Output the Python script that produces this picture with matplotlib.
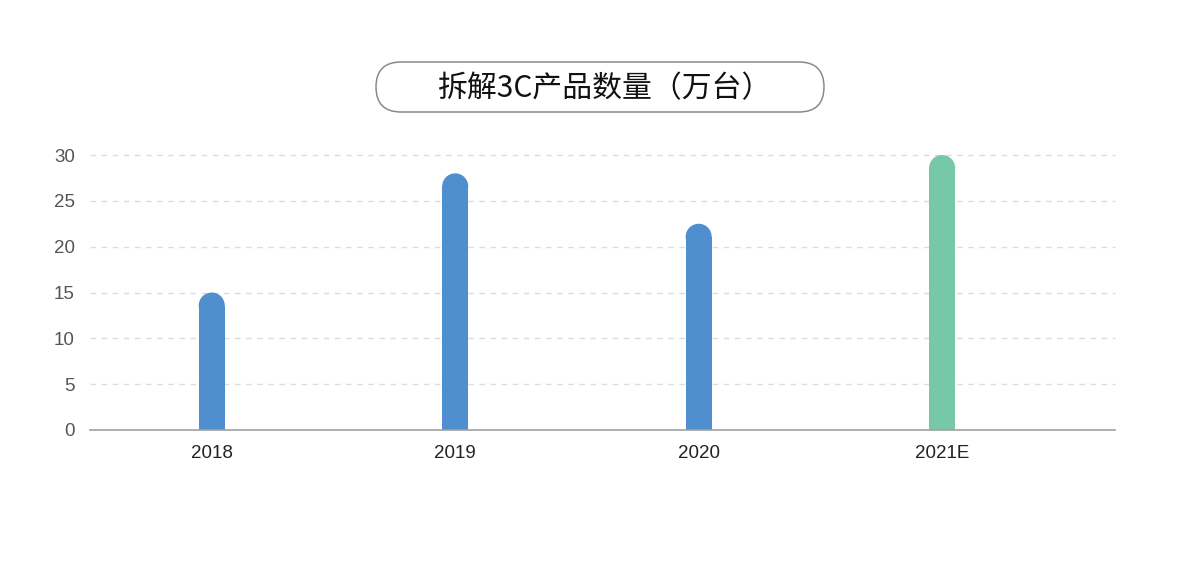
import numpy as np
import matplotlib
matplotlib.use("Agg")
import matplotlib.pyplot as plt
from matplotlib.patches import FancyBboxPatch

plt.rcParams['font.family'] = ['Liberation Sans', 'Noto Sans CJK SC', 'DejaVu Sans']

# data
years = ['2018', '2019', '2020', '2021E']
counts = [15, 28, 22.5, 30]
colors = ['#4F8FD0', '#4F8FD0', '#4F8FD0', '#76C8A8']
title = '拆解3C产品数量（万台）'

W, H = 1199, 584
fig = plt.figure(figsize=(W / 100, H / 100), dpi=100)
ax = fig.add_axes([90 / W, (H - 430) / H, (1115 - 90) / W, (430 - 155) / H])

x = np.arange(len(years))
bw = 0.107
ymax = 30
ax.set_xlim(-0.5, 3.71)
ax.set_ylim(0, ymax)

# rounded bar tops: rectangle + circle cap of the same pixel width
px_per_x = (1115 - 90) / 4.21
px_per_y = (430 - 155) / ymax
r_data = (bw * px_per_x / 2) / px_per_y
vals = np.array(counts)
ax.bar(x, vals - r_data, width=bw, color=colors, zorder=3)
diam_pt = bw * px_per_x * 0.72
ax.scatter(x, vals - r_data, s=diam_pt ** 2, c=colors, marker='o',
           linewidths=0, zorder=3, clip_on=False)

# grid and axes
ax.set_yticks([0, 5, 10, 15, 20, 25, 30])
for yv in [5, 10, 15, 20, 25, 30]:
    ax.axhline(yv, color='#DCDCDC', lw=1, ls=(0, (4, 4)), zorder=1, clip_on=False)
for s in ['top', 'right', 'left']:
    ax.spines[s].set_visible(False)
ax.spines['bottom'].set_color('#A0A0A0')
ax.spines['bottom'].set_linewidth(1.2)
ax.spines['bottom'].set_zorder(4)

ax.set_xticks(x)
ax.set_xticklabels(years)
ax.tick_params(axis='x', length=0, pad=11, labelsize=13.5, labelcolor='#222222')
ax.tick_params(axis='y', length=0, pad=11, labelsize=13.5, labelcolor='#555555')

# title in pill-shaped box
box = FancyBboxPatch((3.76, (H - 112) / 100), 4.48, 0.50,
                     boxstyle='round,pad=0,rounding_size=0.25',
                     transform=fig.dpi_scale_trans, facecolor='white',
                     edgecolor='#8A8A8A', linewidth=1.1)
fig.patches.append(box)
fig.text(604 / W, (H - 89) / H, title, ha='center', va='center',
         fontsize=21.5, color='#111111', weight='medium',
         family=['Noto Sans CJK SC', 'DejaVu Sans'])

fig.savefig('out.png', dpi=100)
